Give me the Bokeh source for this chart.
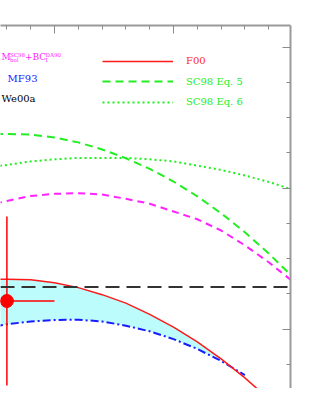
from bokeh.plotting import figure
from bokeh.models import Range1d, LinearAxis, FixedTicker, Label, Legend, LegendItem, Span
from bokeh.embed import file_html
from bokeh.resources import INLINE

# ---- data ----
feh = [-2.25, -2.2, -2.1, -2.0, -1.9, -1.8, -1.7, -1.6, -1.5, -1.4, -1.3, -1.2, -1.1, -1.0]
sc98_eq5 = [-4.277, -4.277, -4.276, -4.272, -4.265, -4.255, -4.2425, -4.2275, -4.2095, -4.1885, -4.1645, -4.1375, -4.1075, -4.0745]
sc98_eq6 = [-4.231, -4.233, -4.238, -4.241, -4.243, -4.243, -4.243, -4.241, -4.238, -4.232, -4.226, -4.218, -4.209, -4.198]
mbol_bc = [-4.178, -4.182, -4.189, -4.192, -4.193, -4.191, -4.185, -4.178, -4.167, -4.156, -4.140, -4.119, -4.095, -4.068]
f00 = [-4.071, -4.071, -4.070, -4.066, -4.059, -4.049, -4.037, -4.021, -4.003, -3.982, -3.958, -3.931, -3.901, -3.868]
mf93_feh = feh[:12]
mf93 = [-4.004, -4.007, -4.011, -4.013, -4.0135, -4.011, -4.005, -3.997, -3.986, -3.972, -3.955, -3.935]
band_n = 11  # F00 / MF93 band up to where they meet
we00a = -4.06

obs_feh = [-2.20]
obs_mi = [-4.04]
obs_feh_err = [0.20]
obs_mi_err = [0.12]

x_major = [-2.0, -1.5, -1.0]
x_minor = [-2.2, -2.1, -2.0, -1.9, -1.8, -1.7, -1.6, -1.5, -1.4, -1.3, -1.2, -1.1, -1.0]
y_major = [-4.4, -4.2, -4.0]
y_minor = [-4.45, -4.4, -4.35, -4.3, -4.25, -4.2, -4.15, -4.1, -4.05, -4.0, -3.95, -3.9]

FONT = "DejaVu Serif"

p = figure(width=299, height=388, output_backend="svg", toolbar_location=None,
           x_range=Range1d(-2.2269, -1.0084), y_range=Range1d(-3.9159, -4.4308),
           x_axis_location=None, y_axis_location=None,
           min_border_left=0, min_border_bottom=0, min_border_top=25, min_border_right=9)
p.outline_line_color = None
p.grid.visible = False
p.background_fill_color = "white"
p.border_fill_color = "white"

top = LinearAxis(ticker=FixedTicker(ticks=x_major, minor_ticks=x_minor))
right = LinearAxis(ticker=FixedTicker(ticks=y_major, minor_ticks=y_minor))
for ax, majors in ((top, x_major), (right, y_major)):
    ax.axis_line_color = "#9a9a9a"
    ax.axis_line_width = 2
    ax.major_tick_in = 8
    ax.major_tick_out = 0
    ax.minor_tick_in = 4
    ax.minor_tick_out = 0
    ax.major_tick_line_color = "#8a8a8a"
    ax.minor_tick_line_color = "#8a8a8a"
    ax.major_tick_line_width = 1
    ax.minor_tick_line_width = 1
    ax.major_label_overrides = {m: "" for m in majors}
    ax.major_label_text_font_size = "1px"
    ax.major_label_standoff = 0
p.add_layout(top, "above")
p.add_layout(right, "right")

# shaded band between F00 and MF93
p.varea(x=feh[:band_n], y1=f00[:band_n], y2=mf93[:band_n], fill_color="#bdfcfc")

r_eq5 = p.line(feh, sc98_eq5, line_color="#22ee22", line_width=2, line_dash="8 5")
r_eq6 = p.line(feh, sc98_eq6, line_color="#22ee22", line_width=2, line_dash="2 3")
r_mb = p.line(feh, mbol_bc, line_color="#ff22ff", line_width=2, line_dash="7 5")
r_mf = p.line(mf93_feh, mf93, line_color="#1a1aff", line_width=2, line_dash="8 3 2 3")
r_f00 = p.line(feh, f00, line_color="#ff1a1a", line_width=1.5)

p.add_layout(Span(location=we00a, dimension="width", line_color="#333333",
                  line_width=2, line_dash="14 7"))

# observed point with error bars
ox0 = [x - e for x, e in zip(obs_feh, obs_feh_err)]
ox1 = [x + e for x, e in zip(obs_feh, obs_feh_err)]
oy0 = [y - e for y, e in zip(obs_mi, obs_mi_err)]
oy1 = [y + e for y, e in zip(obs_mi, obs_mi_err)]
p.segment(x0=ox0, y0=obs_mi, x1=ox1, y1=obs_mi, line_color="red", line_width=1.5)
p.segment(x0=obs_feh, y0=oy0, x1=obs_feh, y1=oy1, line_color="red", line_width=1.5)
p.scatter(obs_feh, obs_mi, size=13, color="red")

# right legend column: one legend per entry so each label keeps its colour
for i, (lab_txt, rend, col) in enumerate((("F00", r_f00, "#ff2a2a"),
                                          ("SC98 Eq. 5", r_eq5, "#22ee22"),
                                          ("SC98 Eq. 6", r_eq6, "#22ee22"))):
    leg = Legend(items=[LegendItem(label=lab_txt, renderers=[rend])],
                 location=(102, 317.5 - 20.5 * i), padding=0, margin=0, spacing=0,
                 glyph_width=71, glyph_height=20, label_height=20, label_standoff=13,
                 label_text_font=FONT, label_text_font_size="10px",
                 label_text_color=col, background_fill_alpha=0, border_line_alpha=0)
    p.add_layout(leg)

# left legend column (its line samples lie beyond the left edge)
def lab(text, x, y, size, color, align="left"):
    p.add_layout(Label(x=x, y=y, x_units="screen", y_units="screen", text=text,
                       text_font=FONT, text_font_size=size, text_color=color,
                       text_align=align, text_baseline="middle"))

lab("M", 1, 331.5, "9px", "#ff22ff")
lab("bol", 9.5, 328.8, "5.5px", "#ff22ff")
lab("SC98", 9.5, 334.0, "5.5px", "#ff22ff")
lab("+BC", 24.5, 331.5, "9px", "#ff22ff")
lab("DA90", 45, 334.0, "5.5px", "#ff22ff")
lab("I", 45, 328.8, "5.5px", "#ff22ff")
lab("MF93", 37, 310.0, "10px", "#1a1aff", "right")
lab("We00a", 1, 290.0, "10px", "black")

open("out.html", "w").write(file_html(p, INLINE))
